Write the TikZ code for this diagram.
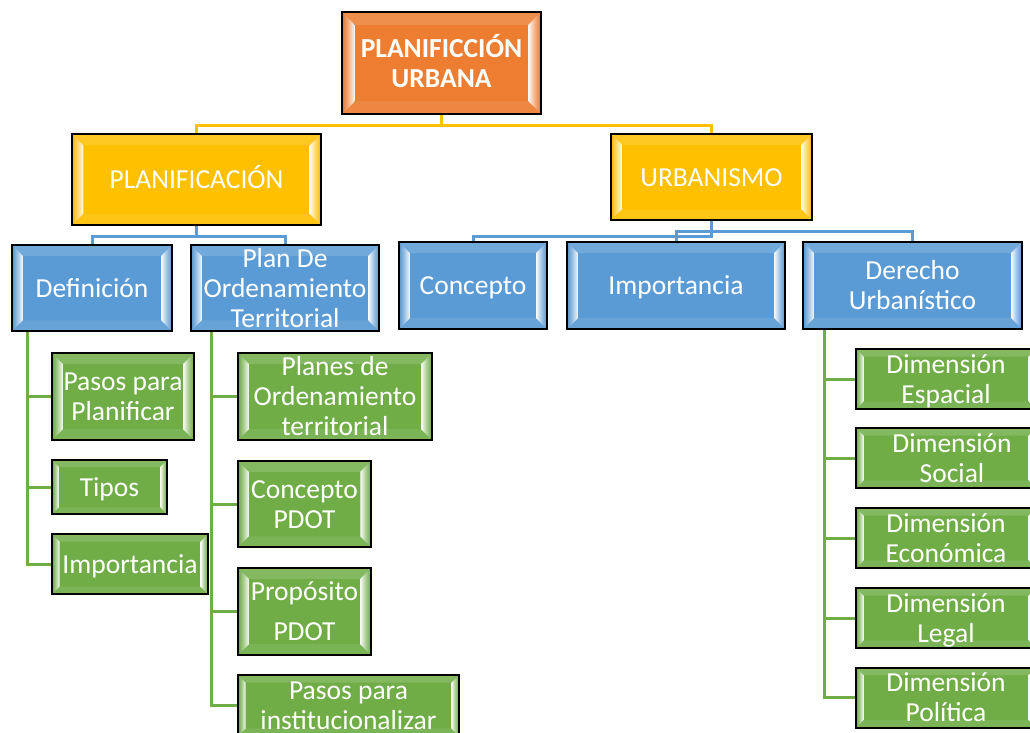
\documentclass[tikz,border=0pt]{standalone}
\usepackage{fontspec}
\setmainfont{Carlito}
\usetikzlibrary{calc}
\pgfdeclarelayer{bg}
\pgfsetlayers{bg,main}
\definecolor{cOrange}{HTML}{ED7D31}
\definecolor{cYellow}{HTML}{FFC000}
\definecolor{cBlue}{HTML}{5B9BD5}
\definecolor{cGreen}{HTML}{70AD47}
% strut that fixes the line box of the box labels
\newcommand\tstrut{\rule[-5pt]{0pt}{28pt}}
\tikzset{
  bevelbox/.style={draw=black, line width=2pt, fill=#1, inner sep=0pt,
    path picture={
      % corners of the box and of its inner face; bevel depth is 1/8 of the short side
      \path let \p1=(path picture bounding box.south west),
                \p2=(path picture bounding box.north east),
                \n1={min(\x1,\x2)}, \n2={max(\x1,\x2)},
                \n3={min(\y1,\y2)}, \n4={max(\y1,\y2)},
                \n5={0.125*min(\n2-\n1,\n4-\n3)} in
        coordinate (L) at ({\n1*1pt},{\n3*1pt})
        coordinate (R) at ({\n2*1pt},{\n4*1pt})
        coordinate (li) at ({(\n1+\n5)*1pt},{(\n3+\n5)*1pt})
        coordinate (ri) at ({(\n2-\n5)*1pt},{(\n4-\n5)*1pt});
      % top and bottom faces
      \fill[#1!86!white] (L|-R) -- (li|-ri) -- (ri) -- (R) -- cycle;
      \fill[#1!92!white] (L) -- (li) -- (ri|-li) -- (R|-L) -- cycle;
      % lit left face
      \path[left color=#1!95!black, right color=#1!5!white, middle color=#1!60!white]
        (L) -- (li) -- (li|-ri) -- (L|-R) -- cycle;
      % lit right face
      \path[left color=#1!5!white, right color=#1!95!black, middle color=#1!60!white]
        (R|-L) -- (ri|-li) -- (ri) -- (R) -- cycle;
    }},
  boxtext/.style={text=white, align=center, inner sep=0pt,
    font=\fontsize{27.5}{30}\selectfont},
  link/.style={draw=#1, line width=3pt},
}
% name, centre x, centre y, width, height, colour, label
\newcommand\bevnode[7]{%
  \node[bevelbox=#6, minimum width=#4pt, minimum height=#5pt] (#1) at (#2,#3) {};
  \node[boxtext] (#1-t) at (#1.center) {\tstrut#7\tstrut};}

\begin{document}
\begin{tikzpicture}[x=1pt, y=-1pt]
\useasboundingbox (0,0) rectangle (1030,732);

% top level
\bevnode{root}{441.5}{63}{199}{102}{cOrange}{{\bfseries PLANIFICCIÓN}\\{\bfseries URBANA}}

% second level
\bevnode{plan}{196.5}{179.5}{249}{91}{cYellow}{PLANIFICACIÓN}
\bevnode{urb}{711.5}{177}{201}{86}{cYellow}{URBANISMO}

% third level
\bevnode{def}{92}{288}{160}{86}{cBlue}{Definición}
\bevnode{pdot}{285}{288}{188}{86}{cBlue}{Plan De\\Ordenamiento\\Territorial}
\bevnode{conc}{473}{285.5}{148}{87}{cBlue}{Concepto}
\bevnode{imp}{676}{285.5}{218}{87}{cBlue}{Importancia}
\bevnode{der}{912.5}{285.5}{219}{87}{cBlue}{Derecho\\Urbanístico}

% under Definición
\bevnode{g1}{123}{396.5}{142}{87}{cGreen}{Pasos para\\Planificar}
\bevnode{g2}{109.5}{487}{115}{54}{cGreen}{Tipos}
\bevnode{g3}{130}{564}{156}{60}{cGreen}{Importancia}

% under Plan De Ordenamiento Territorial
\bevnode{h1}{335}{396.5}{194}{87}{cGreen}{Planes de\\Ordenamiento\\territorial}
\bevnode{h2}{304.5}{504}{133}{86}{cGreen}{Concepto\\PDOT}
\bevnode{h3}{304.5}{611.5}{133}{87}{cGreen}{Propósito\\[10pt]PDOT}
\bevnode{h4}{348.5}{705.5}{221}{61}{cGreen}{Pasos para\\institucionalizar}

% under Derecho Urbanístico
\bevnode{r1}{946}{379}{180}{60}{cGreen}{Dimensión\\Espacial}
\bevnode{r2}{946}{458}{180}{60}{cGreen}{\hspace*{12pt}Dimensión\\\hspace*{12pt}Social}
\bevnode{r3}{946}{538}{180}{60}{cGreen}{Dimensión\\Económica}
\bevnode{r4}{946}{618}{180}{60}{cGreen}{Dimensión\\Legal}
\bevnode{r5}{946}{697.5}{180}{60}{cGreen}{Dimensión\\Política}

\begin{pgfonlayer}{bg}
  \fill[white] (0,0) rectangle (1030,732);
  % connectors
  \draw[link=cYellow] (root.south) -- ++(0,10) -| (plan.north);
  \draw[link=cYellow] (root.south) -- ++(0,10) -| (urb.north);

  \draw[link=cBlue] (plan.south) -- ++(0,10) -| (def.north);
  \draw[link=cBlue] (plan.south) -- ++(0,10) -| (pdot.north);
  \draw[link=cBlue] (urb.south) -- ++(0,15) -| (conc.north);
  \draw[link=cBlue] (imp.north) -- ++(0,-10) -| (der.north);

  \foreach \t in {g1,g2,g3}
    \draw[link=cGreen] (def.south west) ++(16,0) |- (\t.west);
  \foreach \t in {h1,h2,h3,h4}
    \draw[link=cGreen] (pdot.south west) ++(21,0) |- (\t.west);
  \foreach \t in {r1,r2,r3,r4,r5}
    \draw[link=cGreen] (der.south west) ++(22,0) |- (\t.west);
\end{pgfonlayer}
\end{tikzpicture}
\end{document}
